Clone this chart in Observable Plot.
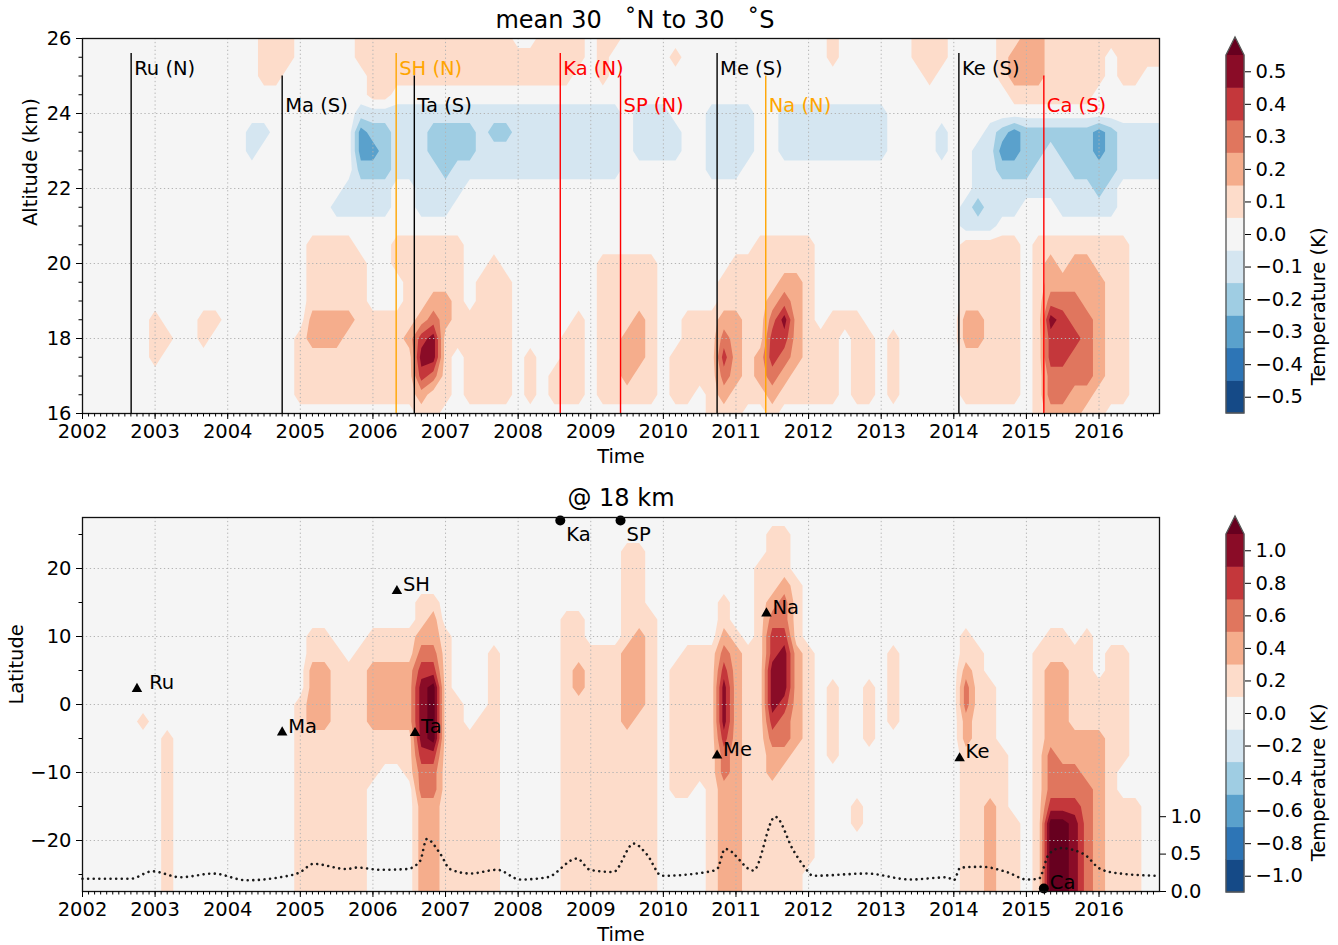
<!DOCTYPE html>
<html>
<head>
<meta charset="utf-8">
<script src="https://cdn.jsdelivr.net/npm/d3@7"></script>
<script src="https://cdn.jsdelivr.net/npm/@observablehq/plot@0.6"></script>
<style>
  html, body { margin: 0; padding: 0; background: #fff; }
  #chart { position: relative; width: 1338px; height: 945px; font-family: "DejaVu Sans", sans-serif; }
</style>
</head>
<body>
<div id="chart"></div>
<script>
// ======================= DATA =======================
// Time grid of the anomaly fields: one column every two months from 2002.0
const gridStart = 2002, gridStep = 1 / 6;

// Upper panel: temperature anomaly (K), 30N-30S mean. One string per time step,
// altitude from 26 km (first char) down to 16 km (last char) every 0.5 km.
// '.' = 0, '1'..'6' = +0.1..+0.6 K, 'a'..'d' = -0.1..-0.4 K
const topAltTop = 26, topAltStep = 0.5, topUnit = 0.1;
const topColumns = [
  ".....................", ".....................", ".....................", ".....................",
  ".....................", ".....................", "...............111...", "................1....",
  ".....................", ".....................", "...............11....", "...............1.....",
  ".....................", ".....................", ".....aa..............", "111..a...............",
  "111..................", "11...................", "................1111.", "...........111122111.",
  "...........111122111.", ".........a.111122111.", "........aa.111121111.", "11..accbaa..11111111.",
  "1111abcbaa.....11111.", "1111abbbaa.....11111.", "111.aaaa...11..11111.", "111.aaaa...111112111.",
  "111.aaaaaa.1111245421", "111.abbaaa.1112355311", "111.abbbaa.111221111.", "111.abbaa..111111....",
  "111.abba.......11111.", "111.aaaa.....1111111.", "111.abaa....11111111.", "111.abaa.....1111111.",
  ".11.aaaa.............", ".11.aaaa.........111.", "111.aaaa.............", "111.aaaa..........11.",
  "111.aaaa........1111.", "11..aaaa.......11111.", "....aaaa.............", "111.aaaa....11111111.",
  "1...aaaa....11111111.", "............11112221.", "....aaa.....11122211.", "....aaa.....11111111.",
  "....aaa..............", ".1...aa..........111.", "...............11111.", "...............1111..",
  "....aaaa.......111111", "....aaaa.....11234321", "....aaaa....111222211", "....aaa.....11111111.",
  "...........111111221.", "...........1112344321", "....aaa....112354321.", "....aaa....112222211.",
  "....aaa....111111111.", "....aaa.........1111.", "11..aaa........11111.", "....aaa........1.....",
  "....aaa........11111.", "....aaa.........1111.", "....aaa..............", "................1111.",
  ".....................", "11...................", "111..................", "11...aa..............",
  ".....................", ".........aa111122111.", "......aaaba111122111.", ".....aaaaaa111111111.",
  "111..bcbaa.111111111.", "1221.ccbaa.111111111.", "2221.bbba............", "2221.bbaa..1111111111",
  "1111.baaa..1223544332", "1111.bbaaa.1123444332", "1111.bbbaa.1223343322", "1111.bbbaa.1222333321",
  "111..ccbba.1122222211", "1....bbbaa.111111111.", "111..aaa...111111111.", "111..aaa.............",
  "11...aaa.............", "11...aaa............."
];

// Lower panel: temperature anomaly (K) at 18 km. One string per time step,
// latitude from 27.5N (first char) to 27.5S (last char) every 2.5 degrees.
// '.' = 0, '1'..'6' = +0.2..+1.2 K
const botLatTop = 27.5, botLatStep = 2.5, botUnit = 0.2;
const botColumns = [
  ".......................", ".......................", ".......................", ".......................",
  ".......................", "............1..........", ".......................", ".............1111111111",
  ".......................", ".......................", ".......................", ".......................",
  ".......................", ".......................", ".......................", ".......................",
  ".......................", ".......................", "...........111111111111", ".......1122221111111111",
  ".......1122221111111111", "........111111111111111", ".........11111111111111", "........111111111111111",
  ".......112222111.......", ".......11222211........", ".......11222211........", ".......112222111.......",
  ".....112345555433222222", ".....122346666433222222", ".......1111111111111111", "...........111111111111",
  ".............1111111111", "............11111111111", "........111111111111111", ".......................",
  ".......................", ".......................", ".......................", ".......................",
  "......11111111111111111", "......11122111111111111", "........111111111111111", "........111111111111111",
  "........111111111111111", "..111111222221111111111", "..111112222211111111111", "......11111111111111111",
  ".......................", ".........11111111......", "........111111111......", "........11111111.......",
  "........111111111111111", ".....112345554332222222", ".......1222222222222222", "........111111111111111",
  "...11111111111111111111", ".1111234455543221111111", ".1112334555433211111111", "....1111222222111111111",
  "........1111111111111..", ".......................", "..........11111........", ".......................",
  ".................11.....", "..........1111.........", ".......................", "........11111..........",
  ".......................", ".......................", ".......................", ".......................",
  ".......................", ".......1123322111111111", "........111111111111111", "..........1111111222222",
  "..............111111111", "..................11111", ".......................", "........111111111111111",
  ".......1122222333466666", ".......1122222233466666", "........111112233455555", ".......1111112223333333",
  "..........1112222222222", "........111111111111111", "........1111111..111111", ".................111111",
  ".......................", "......................."
];

// Contour levels and colour-bar ticks
const topLevels = [-0.55, -0.45, -0.35, -0.25, -0.15, -0.05, 0.05, 0.15, 0.25, 0.35, 0.45, 0.55];
const botLevels = [-1.1, -0.9, -0.7, -0.5, -0.3, -0.1, 0.1, 0.3, 0.5, 0.7, 0.9, 1.1];
const topBarTicks = [-0.5, -0.4, -0.3, -0.2, -0.1, 0, 0.1, 0.2, 0.3, 0.4, 0.5];
const botBarTicks = [-1.0, -0.8, -0.6, -0.4, -0.2, 0, 0.2, 0.4, 0.6, 0.8, 1.0];

// Volcanic eruptions
const eventNames = ["Ru", "Ma", "SH", "Ta", "Ka", "SP", "Me", "Na", "Ke", "Ca"];
const eventHemis = ["N", "S", "N", "S", "N", "N", "S", "N", "S", "S"];
const eventDates = [2002.67, 2004.75, 2006.32, 2006.57, 2008.58, 2009.41, 2010.74, 2011.41, 2014.07, 2015.24];
const markerDates = [2002.75, 2004.75, 2006.33, 2006.58, 2008.58, 2009.41, 2010.74, 2011.42, 2014.08, 2015.24];
const volcanoLats = [2.3, -4.1, 16.7, -4.2, 52.2, 48.1, -7.5, 13.4, -7.9, -41.3];

// Dotted series (right axis, lower panel)
const aodTimes = [2002.00, 2002.66, 2002.96, 2003.35, 2003.80, 2004.26, 2004.72, 2005.00, 2005.18, 2005.64,
  2005.78, 2006.10, 2006.47, 2006.65, 2006.74, 2006.93, 2007.06, 2007.34, 2007.71, 2008.03,
  2008.40, 2008.81, 2008.99, 2009.31, 2009.59, 2009.77, 2009.98, 2010.60, 2010.74, 2010.85,
  2011.24, 2011.54, 2011.79, 2011.95, 2012.06, 2012.80, 2013.40, 2013.91, 2014.00, 2014.09,
  2014.39, 2014.73, 2015.01, 2015.17, 2015.31, 2015.47, 2015.79, 2016.02, 2016.29, 2016.80];
const aodValues = [0.17, 0.17, 0.27, 0.19, 0.24, 0.15, 0.19, 0.26, 0.37, 0.30,
  0.32, 0.29, 0.30, 0.41, 0.70, 0.50, 0.30, 0.24, 0.29, 0.16,
  0.19, 0.44, 0.29, 0.26, 0.64, 0.50, 0.21, 0.26, 0.30, 0.57,
  0.28, 1.00, 0.55, 0.32, 0.21, 0.24, 0.16, 0.19, 0.15, 0.32,
  0.33, 0.26, 0.16, 0.17, 0.50, 0.58, 0.50, 0.30, 0.24, 0.21];
const aodTicks = [0.0, 0.5, 1.0];

// Axis ticks
const yearTicks = [2002, 2003, 2004, 2005, 2006, 2007, 2008, 2009, 2010, 2011, 2012, 2013, 2014, 2015, 2016];
const altTicks = [16, 18, 20, 22, 24, 26];
const latTicks = [-20, -10, 0, 10, 20];

// ======================= STYLE / DRAW =======================
const binColors = ["#154a87", "#2d75b6", "#5aa1cc", "#9fcde3", "#d5e6f1", "#f5f5f5",
                   "#fddcca", "#f5ad8c", "#e0765e", "#c4373b", "#8a0c27", "#67001f"];
const lineColor = {Ru: "#000000", Ma: "#000000", SH: "#ffa500", Ta: "#000000", Ka: "#ff0000",
                   SP: "#ff0000", Me: "#000000", Na: "#ffa500", Ke: "#000000", Ca: "#ff0000"};
const labelRow = {Ru: 1, Ma: 2, SH: 1, Ta: 2, Ka: 1, SP: 2, Me: 1, Na: 2, Ke: 1, Ca: 2};
const rowTop = {1: 25.6, 2: 25.0}, rowText = {1: 25.2, 2: 24.2};
const FONT = "'DejaVu Sans', sans-serif";
const FS = 19.5;
const xDomain = [2002, 2016.833];
const gridStyle = {stroke: "#b4b4b4", strokeOpacity: 1, strokeWidth: 1, strokeDasharray: "1.3,2.6"};
const minus = "\u2212";
const fmt1 = d => (d < -1e-9 ? minus : "") + Math.abs(d).toFixed(1);
const fmtInt = d => (d < 0 ? minus : "") + Math.abs(d);

const codeValue = c => c === "." ? 0 : (c >= "0" && c <= "9") ? +c : -(c.charCodeAt(0) - 96);
function toGrid(columns, unit) {
  const w = columns.length, h = columns[0].length;
  const values = new Array(w * h);
  for (let j = 0; j < h; ++j)
    for (let i = 0; i < w; ++i) values[j * w + i] = codeValue(columns[i][j] || ".") * unit;
  return {values, w, h};
}
const monthTicks = d3.range(0, 179).map(m => 2002 + m / 12).filter(t => t <= xDomain[1] + 1e-6);

function contourMark(columns, unit, rowTopValue, rowStep, levels) {
  const g = toGrid(columns, unit);
  return Plot.contour(g.values, {
    width: g.w, height: g.h,
    x1: gridStart - gridStep / 2, x2: gridStart + (g.w - 0.5) * gridStep,
    y1: rowTopValue + rowStep / 2, y2: rowTopValue - (g.h - 0.5) * rowStep,
    thresholds: levels, fill: Plot.identity, clip: true
  });
}

const events = eventNames.map((name, i) => ({name, hemi: eventHemis[i], date: eventDates[i]}));

// ---------- upper panel ----------
const topMarks = [
  Plot.frame({fill: "#f5f5f5", stroke: null}),
  contourMark(topColumns, topUnit, topAltTop, topAltStep, topLevels),
  Plot.gridX(yearTicks, gridStyle),
  Plot.gridY(altTicks, gridStyle)
];
for (const c of ["#000000", "#ffa500", "#ff0000"]) {
  const sub = events.filter(e => lineColor[e.name] === c);
  topMarks.push(
    Plot.ruleX(sub, {x: "date", y1: 16, y2: d => rowTop[labelRow[d.name]], stroke: c, strokeWidth: 1.4}),
    Plot.text(sub, {x: "date", y: d => rowText[labelRow[d.name]], text: d => `${d.name} (${d.hemi})`,
                    fill: c, textAnchor: "start", dx: 3, fontSize: FS})
  );
}
topMarks.push(
  Plot.frame({stroke: "#111", strokeWidth: 1.3}),
  Plot.axisX(yearTicks, {tickFormat: "d", tickSize: 6, tickPadding: 5, label: null}),
  Plot.axisX(monthTicks, {tickFormat: () => "", tickSize: 3.5, label: null}),
  Plot.axisY(altTicks, {tickSize: 6, tickPadding: 5, label: null}),
  Plot.axisY(d3.range(16, 26.01, 0.5), {tickFormat: () => "", tickSize: 3.5, label: null}),
  Plot.text(["Time"], {frameAnchor: "bottom", lineAnchor: "middle", dy: 43, fontSize: FS}),
  Plot.text(["Altitude (km)"], {frameAnchor: "left", dx: -52, rotate: -90, fontSize: FS}),
  Plot.text(["mean 30\u00a0\u00a0\u00a0\u02daN to 30\u00a0\u00a0\u00a0\u02daS"], {frameAnchor: "top", lineAnchor: "middle", dy: -18, dx: 14, fontSize: 24})
);

const topPlot = Plot.plot({
  width: 1210, height: 478, marginLeft: 82, marginRight: 51, marginTop: 38, marginBottom: 65,
  x: {domain: xDomain}, y: {domain: [16, 26]},
  color: {type: "ordinal", domain: topLevels, range: binColors},
  style: {fontFamily: FONT, fontSize: FS + "px", background: "transparent", color: "#000", overflow: "visible"},
  marks: topMarks
});

// ---------- lower panel ----------
const aodBase = -27.5, aodScale = 11; // right-axis unit -> latitude units
const aod = aodTimes.map((t, i) => ({t, v: aodValues[i]}));
const markers = eventNames.map((name, i) => {
  const lat = volcanoLats[i];
  const out = Math.abs(lat) > 27.5;
  return {name, date: markerDates[i], lat: out ? Math.sign(lat) * 27.05 : lat, out, north: lat > 0};
});
const labelText = d => d.name === "Ru" ? "\u00a0" + d.name : d.name;

const botPlot = Plot.plot({
  width: 1210, height: 467, marginLeft: 82, marginRight: 51, marginTop: 39, marginBottom: 54,
  x: {domain: xDomain}, y: {domain: [-27.5, 27.5]},
  color: {type: "ordinal", domain: botLevels, range: binColors},
  style: {fontFamily: FONT, fontSize: FS + "px", background: "transparent", color: "#000", overflow: "visible"},
  marks: [
    Plot.frame({fill: "#f5f5f5", stroke: null}),
    contourMark(botColumns, botUnit, botLatTop, botLatStep, botLevels),
    Plot.gridX(yearTicks, gridStyle),
    Plot.gridY(latTicks, gridStyle),
    Plot.line(aod, {x: "t", y: d => aodBase + d.v * aodScale, stroke: "#1a1a1a", strokeWidth: 2.6,
                    strokeDasharray: "0.01,5.6", strokeLinecap: "round", curve: "monotone-x"}),
    Plot.dot(markers.filter(d => !d.out), {x: "date", y: "lat", symbol: "triangle", r: 3.9, fill: "#000", stroke: null}),
    Plot.dot(markers.filter(d => d.out), {x: "date", y: "lat", symbol: "circle", r: 5, fill: "#000", stroke: null}),
    Plot.text(markers.filter(d => !d.out || !d.north), {x: "date", y: "lat", text: labelText,
              textAnchor: "start", dx: 6, dy: -6, fontSize: FS}),
    Plot.text(markers.filter(d => d.out && d.north), {x: "date", y: "lat", text: "name",
              textAnchor: "start", dx: 6, dy: 14, fontSize: FS}),
    Plot.frame({stroke: "#111", strokeWidth: 1.3}),
    Plot.axisX(yearTicks, {tickFormat: "d", tickSize: 6, tickPadding: 5, label: null}),
    Plot.axisX(monthTicks, {tickFormat: () => "", tickSize: 3.5, label: null}),
    Plot.axisY(latTicks, {tickFormat: fmtInt, tickSize: 6, tickPadding: 5, label: null}),
    Plot.axisY([-25, -15, -5, 5, 15, 25], {tickFormat: () => "", tickSize: 3.5, label: null}),
    Plot.axisY(aodTicks.map(v => aodBase + v * aodScale), {anchor: "right",
               tickFormat: d => fmt1((d - aodBase) / aodScale), tickSize: 6, tickPadding: 5, label: null}),
    Plot.text(["Time"], {frameAnchor: "bottom", lineAnchor: "middle", dy: 43, fontSize: FS}),
    Plot.text(["Latitude"], {frameAnchor: "left", dx: -66, rotate: -90, fontSize: FS}),
    Plot.text(["@ 18 km"], {frameAnchor: "top", lineAnchor: "middle", dy: -19, fontSize: 24})
  ]
});

// ---------- colour bars ----------
function colorbar(levels, ticks, height, mt, mb, labelDy) {
  const bins = levels.slice(0, -1).map((lo, i) => ({lo, hi: levels[i + 1]}));
  const top = levels[levels.length - 1];
  const extend = (index, scales) => {
    const x0 = scales.x(0), x1 = scales.x(1), yt = scales.y(top), yb = scales.y(levels[0]);
    const xm = (x0 + x1) / 2, tip = yt - 18;
    const g = d3.create("svg:g");
    g.append("path").attr("d", `M${x0},${yt}L${xm},${tip}L${x1},${yt}Z`)
      .attr("fill", binColors[binColors.length - 1]);
    g.append("path").attr("d", `M${x0},${yb}L${x0},${yt}L${xm},${tip}L${x1},${yt}L${x1},${yb}Z`)
      .attr("fill", "none").attr("stroke", "#555").attr("stroke-width", 1.3);
    return g.node();
  };
  return Plot.plot({
    width: 128, height, marginLeft: 16, marginRight: 94, marginTop: mt, marginBottom: mb,
    x: {domain: [0, 1], axis: null}, y: {domain: [levels[0], top]},
    color: {type: "ordinal", domain: levels, range: binColors},
    style: {fontFamily: FONT, fontSize: FS + "px", background: "transparent", color: "#000", overflow: "visible"},
    marks: [
      Plot.rect(bins, {x1: 0, x2: 1, y1: "lo", y2: "hi", fill: "lo", stroke: "lo", strokeWidth: 0.6}),
      extend,
      Plot.axisY(ticks, {anchor: "right", tickFormat: fmt1, tickSize: 6, tickPadding: 5, label: null}),
      Plot.text(["Temperature (K)"], {frameAnchor: "right", dx: 74, dy: labelDy, rotate: -90, fontSize: FS})
    ]
  });
}
const topBar = colorbar(topLevels, topBarTicks, 478, 55, 65, -7);
const botBar = colorbar(botLevels, botBarTicks, 467, 56, 53, -10);

const root = document.getElementById("chart");
function place(node, left, top) {
  node.style.position = "absolute";
  node.style.left = left + "px";
  node.style.top = top + "px";
  node.style.maxWidth = "none";
  root.appendChild(node);
}
place(topPlot, 0, 0);
place(topBar, 1210, 0);
place(botPlot, 0, 478);
place(botBar, 1210, 478);
</script>
</body>
</html>
